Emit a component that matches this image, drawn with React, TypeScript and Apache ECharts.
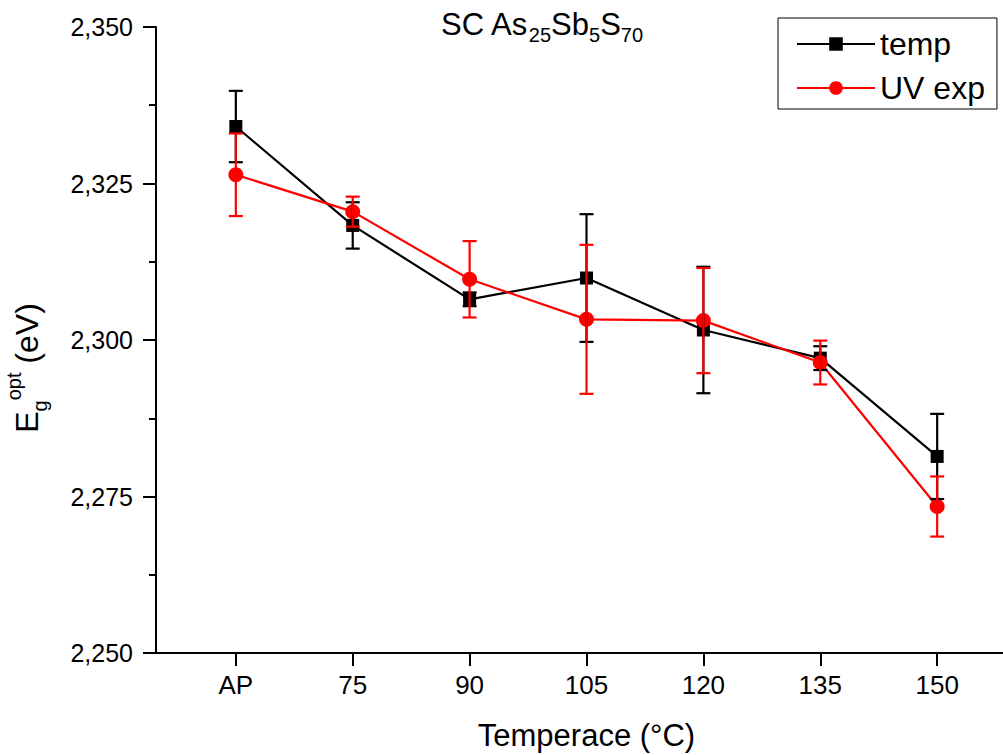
import React, { useEffect, useRef } from "react";
import * as echarts from "echarts";

const categories = ["AP", "75", "90", "105", "120", "135", "150"];
const tempValues = [2.3341, 2.3183, 2.3065, 2.3099, 2.3016, 2.2971, 2.2814];
const tempErrors = [0.0057, 0.0037, 0.0011, 0.0102, 0.0101, 0.0019, 0.0068];
const uvValues = [2.3264, 2.3205, 2.3097, 2.3033, 2.3031, 2.2964, 2.2734];
const uvErrors = [0.0066, 0.0024, 0.0061, 0.0119, 0.0084, 0.0035, 0.0048];
const yTickMin = 2.25;
const yTickMax = 2.35;
const yTickStep = 0.025;

const FONT = "'Liberation Sans', Arial, sans-serif";

function errorSeries(name: string, values: number[], errors: number[], color: string, z: number) {
  return {
    type: "custom",
    name,
    z,
    data: values.map((v, i) => [i, v - errors[i], v + errors[i]]),
    encode: { x: 0, y: [1, 2] },
    silent: true,
    renderItem: (params: any, api: any) => {
      const x = api.value(0);
      const pLo = api.coord([x, api.value(1)]);
      const pHi = api.coord([x, api.value(2)]);
      const hw = 7;
      const style = { stroke: color, lineWidth: 2.2, fill: "none" };
      return {
        type: "group",
        children: [
          { type: "line", shape: { x1: pLo[0], y1: pLo[1], x2: pHi[0], y2: pHi[1] }, style },
          { type: "line", shape: { x1: pLo[0] - hw, y1: pLo[1], x2: pLo[0] + hw, y2: pLo[1] }, style },
          { type: "line", shape: { x1: pHi[0] - hw, y1: pHi[1], x2: pHi[0] + hw, y2: pHi[1] }, style },
        ],
      };
    },
  };
}

export default function App() {
  const ref = useRef<HTMLDivElement>(null);
  useEffect(() => {
    document.body.style.margin = "0";
    const chart = echarts.init(ref.current!, null, { renderer: "svg" });
    const idx = categories.map((_, i) => i);
    chart.setOption({
      animation: false,
      backgroundColor: "#ffffff",
      title: {
        left: 436,
        top: -2,
        text: "{m|SC As}{s|25}{m|Sb}{s|5}{m|S}{s|70}",
        textStyle: {
          fontWeight: "normal",
          rich: {
            m: { fontFamily: FONT, fontSize: 31, fontWeight: "normal", color: "#000", lineHeight: 42, verticalAlign: "middle" },
            s: { fontFamily: FONT, fontSize: 20, fontWeight: "normal", color: "#000", lineHeight: 20, verticalAlign: "bottom" },
          },
        },
      },
      legend: {
        data: ["temp", "UV exp"],
        orient: "vertical",
        left: 778,
        top: 18,
        padding: [10, 12, 5, 18],
        itemWidth: 78,
        itemHeight: 17,
        itemGap: 12,
        borderColor: "#000",
        borderWidth: 1,
        textStyle: { fontFamily: FONT, fontSize: 32, color: "#000", lineHeight: 30 },
      },
      grid: { left: 156, top: 27, width: 861, height: 626, containLabel: false, outerBoundsMode: "none" },
      xAxis: {
        type: "value",
        min: -0.683,
        max: 6.683,
        name: "Temperace (°C)",
        nameLocation: "middle",
        nameGap: 65,
        nameTextStyle: { fontFamily: FONT, fontSize: 31, color: "#000", lineHeight: 34 },
        axisLine: { show: true, onZero: false, lineStyle: { color: "#000", width: 2 } },
        axisTick: { show: true, customValues: idx, length: 13, inside: false, lineStyle: { color: "#000", width: 2 } },
        axisLabel: {
          customValues: idx,
          formatter: (v: number) => categories[Math.round(v)] ?? "",
          fontFamily: FONT,
          fontSize: 26,
          color: "#000",
          margin: 19,
        },
        splitLine: { show: false },
      },
      yAxis: {
        type: "value",
        min: yTickMin,
        max: yTickMax,
        interval: yTickStep,
        axisLine: { show: true, onZero: false, lineStyle: { color: "#000", width: 2 } },
        axisTick: { show: true, length: 13, inside: false, lineStyle: { color: "#000", width: 2 } },
        minorTick: { show: true, splitNumber: 2, length: 7, lineStyle: { color: "#000", width: 2 } },
        axisLabel: {
          formatter: (v: number) => v.toFixed(3).replace(".", ","),
          fontFamily: FONT,
          fontSize: 25,
          color: "#000",
          margin: 23,
        },
        splitLine: { show: false },
      },
      graphic: [
        {
          type: "text",
          x: 27,
          y: 368,
          rotation: Math.PI / 2,
          style: {
            text: "{m|E}{b|g}{p|opt}{m| (eV)}",
            align: "center",
            verticalAlign: "middle",
            rich: {
              m: { fontFamily: FONT, fontSize: 32, fill: "#000", lineHeight: 46, verticalAlign: "middle" },
              b: { fontFamily: FONT, fontSize: 20, fill: "#000", lineHeight: 20, verticalAlign: "bottom" },
              p: { fontFamily: FONT, fontSize: 20, fill: "#000", lineHeight: 20, verticalAlign: "top" },
            },
          },
        },
      ],
      series: [
        {
          name: "temp",
          type: "line",
          z: 2,
          data: tempValues.map((v, i) => [i, v]),
          symbol: "rect",
          symbolSize: 13,
          itemStyle: { color: "#000" },
          lineStyle: { color: "#000", width: 2.2 },
        },
        {
          name: "UV exp",
          type: "line",
          z: 3,
          data: uvValues.map((v, i) => [i, v]),
          symbol: "circle",
          symbolSize: 15,
          itemStyle: { color: "#ff0000" },
          lineStyle: { color: "#ff0000", width: 2.2 },
        },
        errorSeries("temp err", tempValues, tempErrors, "#000", 4),
        errorSeries("UV err", uvValues, uvErrors, "#ff0000", 5),
      ],
    });
    return () => chart.dispose();
  }, []);
  return <div ref={ref} style={{ width: 1003, height: 755 }} />;
}
